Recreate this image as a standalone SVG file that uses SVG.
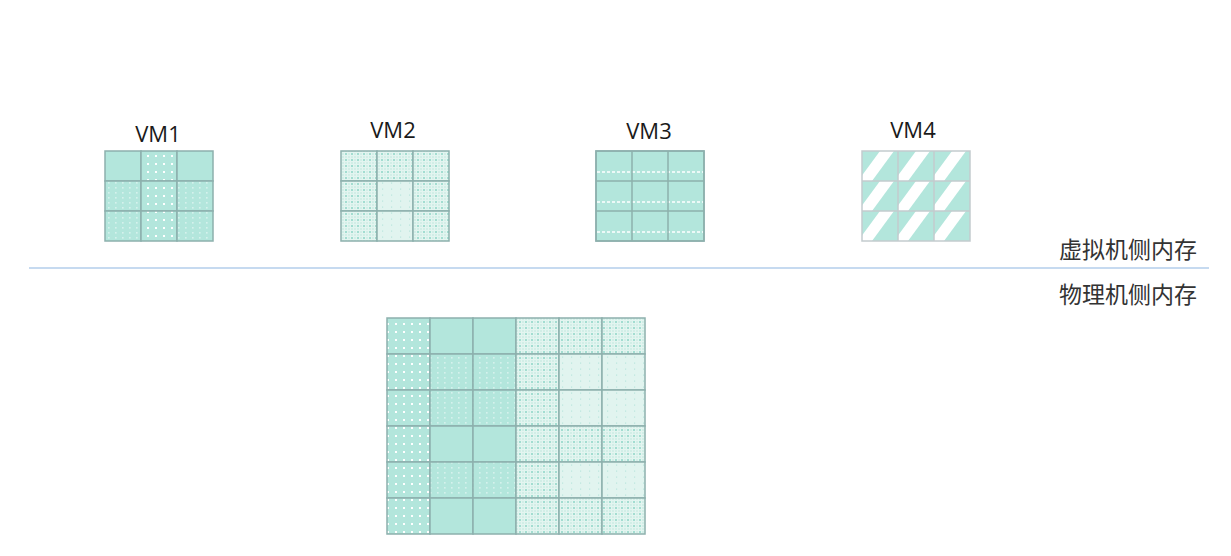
<svg xmlns="http://www.w3.org/2000/svg" xmlns:xlink="http://www.w3.org/1999/xlink" width="1231" height="556" viewBox="0 0 1231 556">
<style>
.lbl{font-family:"Open Sans","Liberation Sans",sans-serif;font-size:22px;fill:#1a1a1a;text-anchor:middle}
.zh{font-family:"Noto Sans CJK SC","Noto Sans CJK JP",sans-serif;font-size:23px;fill:#333333;text-anchor:end}
.c{stroke:#8db0ad;stroke-width:1.5}
.c4{stroke:#c3cbce;stroke-width:1.5;fill:none}
.solid{fill:#b3e6dc}
.dots{fill:url(#pDots)}
.faint{fill:url(#pFaint)}
.dense{fill:url(#pDense)}
.light{fill:url(#pLight)}
.dash{stroke:#ffffff;stroke-width:1.3;stroke-dasharray:3 2}
</style>
<defs>
<pattern id="pDots" patternUnits="userSpaceOnUse" width="8" height="8">
<rect width="8" height="8" fill="#b3e6dc"/>
<rect x="3" y="3" width="2" height="2" fill="#ffffff"/>
</pattern>
<pattern id="pFaint" patternUnits="userSpaceOnUse" width="7" height="5">
<rect width="7" height="5" fill="#b3e6dc"/>
<rect x="3" y="2" width="1.6" height="1.6" fill="#ffffff" opacity="0.45"/>
</pattern>
<pattern id="pDense" patternUnits="userSpaceOnUse" width="6" height="6">
<rect width="6" height="6" fill="#e3f5f0"/>
<rect x="0.5" y="0.5" width="1" height="1" fill="#9fdccf"/>
<rect x="3.5" y="0.5" width="1" height="1" fill="#9fdccf"/>
<rect x="0.5" y="3.5" width="1" height="1" fill="#9fdccf"/>
<rect x="3.2" y="3.2" width="1.6" height="1.6" fill="#80d0c0"/>
</pattern>
<pattern id="pLight" patternUnits="userSpaceOnUse" width="9" height="6">
<rect width="9" height="6" fill="#e1f4ef"/>
<rect x="4" y="2.5" width="1.2" height="1.2" fill="#a8e0d5" opacity="0.7"/>
</pattern>
<clipPath id="clip4"><rect width="36" height="30"/></clipPath>
<g id="vm4cell">
<rect width="36" height="30" fill="#b3e6dc"/>
<polygon points="18,0 32,0 10,30 -4,30" fill="#ffffff" clip-path="url(#clip4)"/>
</g>
</defs>
<rect width="1231" height="556" fill="#ffffff"/>

<g id="vm1">
<text class="lbl" x="158" y="142">VM1</text>
<rect class="c solid" x="105" y="151" width="36" height="30"/>
<rect class="c dots" x="141" y="151" width="36" height="30"/>
<rect class="c solid" x="177" y="151" width="36" height="30"/>
<rect class="c faint" x="105" y="181" width="36" height="30"/>
<rect class="c dots" x="141" y="181" width="36" height="30"/>
<rect class="c faint" x="177" y="181" width="36" height="30"/>
<rect class="c faint" x="105" y="211" width="36" height="30"/>
<rect class="c dots" x="141" y="211" width="36" height="30"/>
<rect class="c faint" x="177" y="211" width="36" height="30"/>
</g>

<g id="vm2">
<text class="lbl" x="393" y="138">VM2</text>
<rect class="c dense" x="341" y="151" width="36" height="30"/>
<rect class="c dense" x="377" y="151" width="36" height="30"/>
<rect class="c dense" x="413" y="151" width="36" height="30"/>
<rect class="c dense" x="341" y="181" width="36" height="30"/>
<rect class="c light" x="377" y="181" width="36" height="30"/>
<rect class="c dense" x="413" y="181" width="36" height="30"/>
<rect class="c dense" x="341" y="211" width="36" height="30"/>
<rect class="c light" x="377" y="211" width="36" height="30"/>
<rect class="c dense" x="413" y="211" width="36" height="30"/>
</g>

<g id="vm3">
<text class="lbl" x="649" y="139">VM3</text>
<rect class="c solid" x="596" y="151" width="108" height="90"/>
<line class="dash" x1="597" y1="172" x2="703" y2="172"/>
<line class="dash" x1="597" y1="202" x2="703" y2="202"/>
<line class="dash" x1="597" y1="232" x2="703" y2="232"/>
<g fill="none" class="c">
<rect x="596" y="151" width="108" height="90"/>
<line x1="632" y1="151" x2="632" y2="241"/>
<line x1="668" y1="151" x2="668" y2="241"/>
<line x1="596" y1="181" x2="704" y2="181"/>
<line x1="596" y1="211" x2="704" y2="211"/>
</g>
</g>

<g id="vm4">
<text class="lbl" x="913" y="138">VM4</text>
<use xlink:href="#vm4cell" x="862" y="151"/>
<use xlink:href="#vm4cell" x="898" y="151"/>
<use xlink:href="#vm4cell" x="934" y="151"/>
<use xlink:href="#vm4cell" x="862" y="181"/>
<use xlink:href="#vm4cell" x="898" y="181"/>
<use xlink:href="#vm4cell" x="934" y="181"/>
<use xlink:href="#vm4cell" x="862" y="211"/>
<use xlink:href="#vm4cell" x="898" y="211"/>
<use xlink:href="#vm4cell" x="934" y="211"/>
<g class="c4">
<rect x="862" y="151" width="108" height="90"/>
<line x1="898" y1="151" x2="898" y2="241"/>
<line x1="934" y1="151" x2="934" y2="241"/>
<line x1="862" y1="181" x2="970" y2="181"/>
<line x1="862" y1="211" x2="970" y2="211"/>
</g>
</g>

<g id="separator">
<line x1="29" y1="268" x2="1209" y2="268" stroke="#c6daf0" stroke-width="2"/>
<text class="zh" x="1197" y="258">虚拟机侧内存</text>
<text class="zh" x="1197" y="303">物理机侧内存</text>
</g>

<g id="physical-memory">
<rect class="c dots" x="387" y="318" width="43" height="36"/>
<rect class="c solid" x="430" y="318" width="43" height="36"/>
<rect class="c solid" x="473" y="318" width="43" height="36"/>
<rect class="c dense" x="516" y="318" width="43" height="36"/>
<rect class="c dense" x="559" y="318" width="43" height="36"/>
<rect class="c dense" x="602" y="318" width="43" height="36"/>

<rect class="c dots" x="387" y="354" width="43" height="36"/>
<rect class="c faint" x="430" y="354" width="43" height="36"/>
<rect class="c faint" x="473" y="354" width="43" height="36"/>
<rect class="c dense" x="516" y="354" width="43" height="36"/>
<rect class="c light" x="559" y="354" width="43" height="36"/>
<rect class="c light" x="602" y="354" width="43" height="36"/>

<rect class="c dots" x="387" y="390" width="43" height="36"/>
<rect class="c faint" x="430" y="390" width="43" height="36"/>
<rect class="c faint" x="473" y="390" width="43" height="36"/>
<rect class="c dense" x="516" y="390" width="43" height="36"/>
<rect class="c light" x="559" y="390" width="43" height="36"/>
<rect class="c light" x="602" y="390" width="43" height="36"/>

<rect class="c dots" x="387" y="426" width="43" height="36"/>
<rect class="c solid" x="430" y="426" width="43" height="36"/>
<rect class="c solid" x="473" y="426" width="43" height="36"/>
<rect class="c dense" x="516" y="426" width="43" height="36"/>
<rect class="c dense" x="559" y="426" width="43" height="36"/>
<rect class="c dense" x="602" y="426" width="43" height="36"/>

<rect class="c dots" x="387" y="462" width="43" height="36"/>
<rect class="c faint" x="430" y="462" width="43" height="36"/>
<rect class="c faint" x="473" y="462" width="43" height="36"/>
<rect class="c dense" x="516" y="462" width="43" height="36"/>
<rect class="c light" x="559" y="462" width="43" height="36"/>
<rect class="c light" x="602" y="462" width="43" height="36"/>

<rect class="c dots" x="387" y="498" width="43" height="36"/>
<rect class="c solid" x="430" y="498" width="43" height="36"/>
<rect class="c solid" x="473" y="498" width="43" height="36"/>
<rect class="c dense" x="516" y="498" width="43" height="36"/>
<rect class="c dense" x="559" y="498" width="43" height="36"/>
<rect class="c dense" x="602" y="498" width="43" height="36"/>
</g>
</svg>
